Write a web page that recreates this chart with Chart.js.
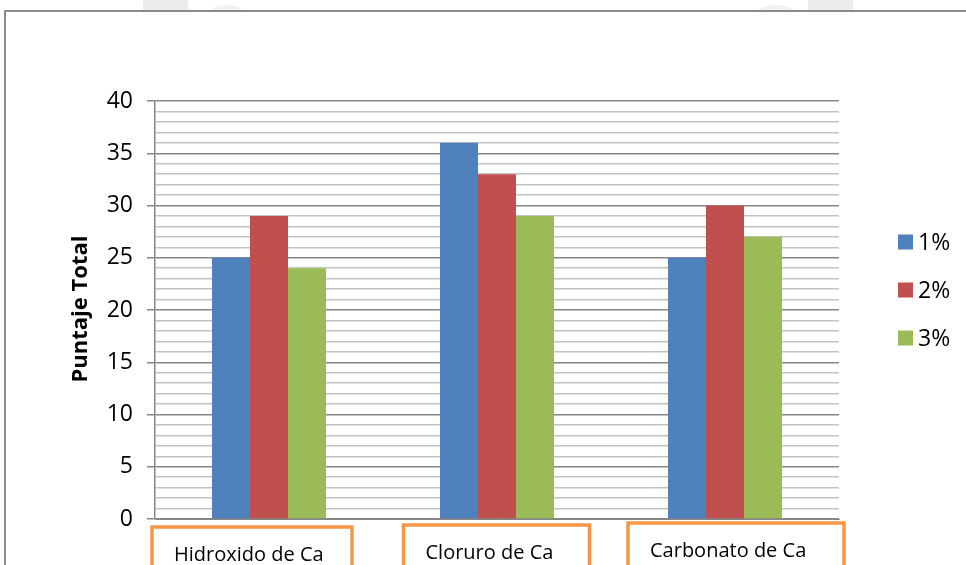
<!DOCTYPE html>
<html>
<head>
<meta charset="utf-8">
<script src="https://cdn.jsdelivr.net/npm/chart.js@4"></script>
<style>
  html, body { margin: 0; padding: 0; background: #fff; overflow: hidden; }
  canvas { display: block; }
</style>
</head>
<body>
<canvas id="c" width="966" height="565"></canvas>
<script>
// ---- data ----
const categories = ['Hidroxido de Ca', 'Cloruro de Ca', 'Carbonato de Ca'];
const seriesNames = ['1%', '2%', '3%'];
const values1 = [25, 36, 25];
const values2 = [29, 33, 30];
const values3 = [24, 29, 27];
const yTickLabels = [0, 5, 10, 15, 20, 25, 30, 35, 40];

// ---- styling ----
const seriesColors = ['#4F81BD', '#C0504D', '#9BBB59'];
const FONT = '"Open Sans", Lato, sans-serif';
const majorGrid = '#868686';
const minorGrid = '#c3c3c3';

// orange text boxes under each category (offset from category centre)
const labelBoxes = [
  { dx: -117, w: 200, top: 527, base: 561 },
  { dx: -93.5, w: 186, top: 525, base: 559 },
  { dx: -97,  w: 216, top: 523, base: 557 }
];

const decorations = {
  id: 'decorations',
  beforeDraw(chart) {
    const ctx = chart.ctx;
    ctx.save();
    ctx.fillStyle = '#ffffff';
    ctx.fillRect(0, 0, chart.width, chart.height);
    // faint page marks above the frame
    ctx.fillStyle = '#ececec';
    ctx.fillRect(143, 0, 45, 10);
    ctx.fillRect(808, 0, 45, 10);
    ctx.fillStyle = '#f2f2f2';
    ctx.beginPath(); ctx.ellipse(227, 11, 15, 6, 0, Math.PI, 0); ctx.fill();
    ctx.beginPath(); ctx.ellipse(776, 11, 18, 6, 0, Math.PI, 0); ctx.fill();
    // outer frame
    ctx.strokeStyle = '#8a8a8a';
    ctx.lineWidth = 2;
    ctx.strokeRect(5, 11, 1200, 1200);
    ctx.restore();
  },
  afterDraw(chart) {
    const ctx = chart.ctx;
    const x = chart.scales.x;
    ctx.save();

    // y axis title
    ctx.fillStyle = '#000';
    ctx.font = 'bold 22px ' + FONT;
    ctx.textAlign = 'center';
    ctx.textBaseline = 'middle';
    ctx.translate(81, 309);
    ctx.rotate(-Math.PI / 2);
    ctx.fillText('Puntaje Total', 0, 0);
    ctx.setTransform(1, 0, 0, 1, 0, 0);

    // category labels in orange boxes
    ctx.font = '20px ' + FONT;
    ctx.textAlign = 'left';
    ctx.textBaseline = 'alphabetic';
    categories.forEach((name, i) => {
      const cx = x.getPixelForValue(i);
      const b = labelBoxes[i];
      const left = cx + b.dx;
      ctx.strokeStyle = '#F79646';
      ctx.lineWidth = 3.5;
      ctx.strokeRect(left, b.top, b.w, 200);
      ctx.fillStyle = '#000';
      ctx.fillText(name, left + 22, b.base);
    });

    // legend
    ctx.font = '23px ' + FONT;
    ctx.textBaseline = 'middle';
    chart.data.datasets.forEach((ds, i) => {
      const y = 242 + i * 48;
      ctx.fillStyle = ds.backgroundColor;
      ctx.fillRect(898, y - 7.5, 15, 15);
      ctx.fillStyle = '#000';
      ctx.fillText(ds.label, 918, y + 1);
    });
    ctx.restore();
  }
};

const chart = new Chart(document.getElementById('c'), {
  type: 'bar',
  data: {
    labels: categories,
    datasets: [
      { label: seriesNames[0], data: values1, backgroundColor: seriesColors[0] },
      { label: seriesNames[1], data: values2, backgroundColor: seriesColors[1] },
      { label: seriesNames[2], data: values3, backgroundColor: seriesColors[2] }
    ]
  },
  options: {
    responsive: false,
    devicePixelRatio: 1,
    animation: false,
    layout: { padding: { left: 0, top: 101, right: 127, bottom: 46 } },
    datasets: { bar: { categoryPercentage: 0.5, barPercentage: 1.0 } },
    plugins: { legend: { display: false }, tooltip: { enabled: false } },
    scales: {
      x: {
        ticks: { display: false },
        grid: { display: false },
        border: { display: true, color: majorGrid, width: 1 },
        afterFit(scale) { scale.height = 0; }
      },
      y: {
        min: 0,
        max: 40,
        ticks: {
          stepSize: 1,
          autoSkip: false,
          padding: 14,
          color: '#000',
          font: { family: FONT, size: 23 },
          callback: (v) => yTickLabels.includes(v) ? String(v) : ''
        },
        grid: {
          color: (c) => (c.tick && c.tick.value % 5 === 0) ? majorGrid : minorGrid,
          tickColor: (c) => (c.tick && c.tick.value % 5 === 0) ? majorGrid : 'rgba(0,0,0,0)',
          lineWidth: 1.5,
          tickLength: 8
        },
        border: { display: true, color: majorGrid, width: 1.5 },
        afterFit(scale) { scale.width = 155; }
      }
    }
  },
  plugins: [decorations]
});
</script>
</body>
</html>
